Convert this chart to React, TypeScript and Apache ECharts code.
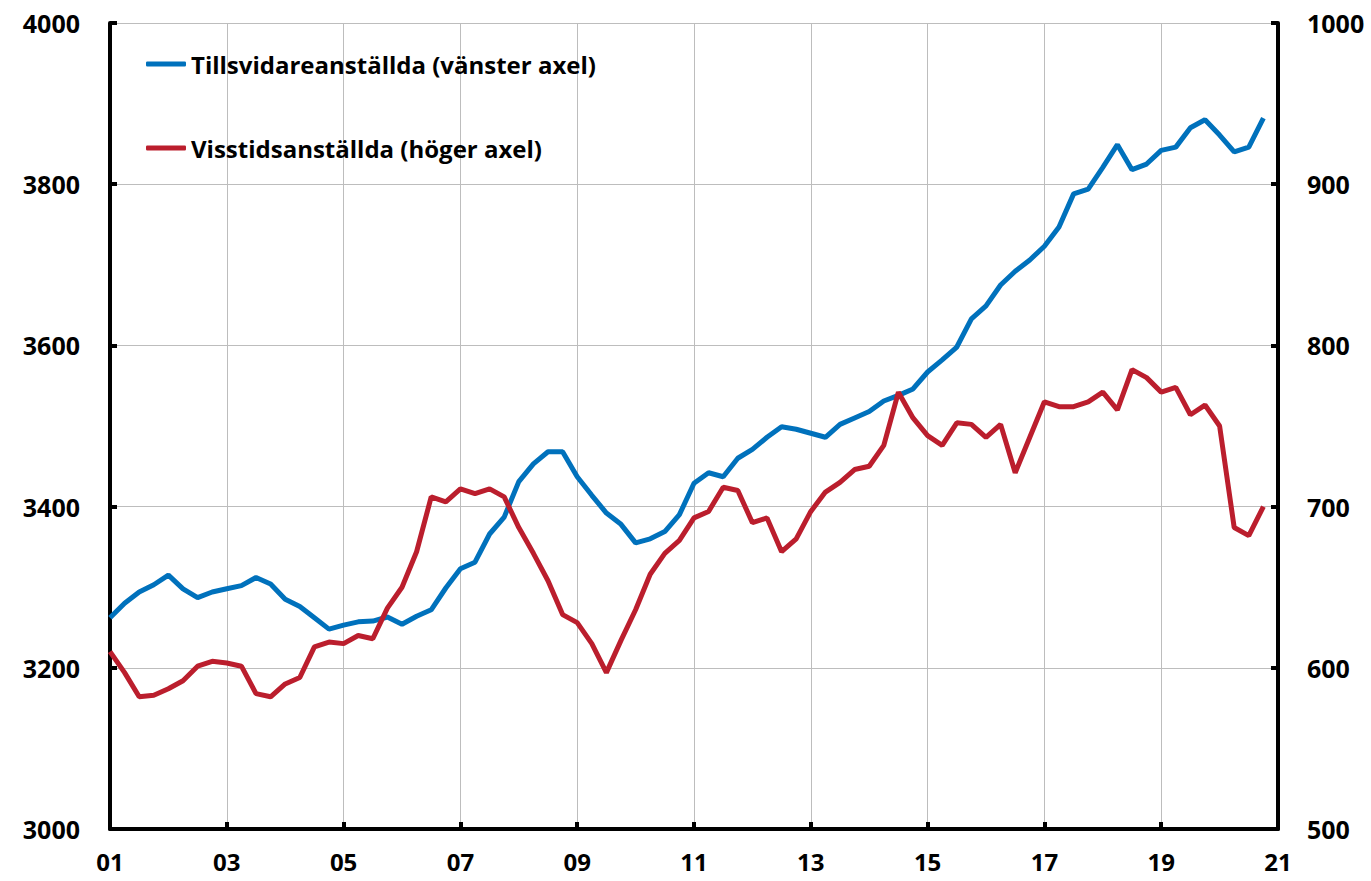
import React, { useEffect, useRef } from "react";
import * as echarts from "echarts";

const quartersPerYear = 4;
const xTickYears = ["01", "03", "05", "07", "09", "11", "13", "15", "17", "19", "21"];

const seriesNames = ["Tillsvidareanställda (vänster axel)", "Visstidsanställda (höger axel)"];

const tillsvidare = [
  3262, 3280, 3294, 3303, 3315, 3298, 3287, 3294, 3298, 3302,
  3312, 3304, 3285, 3276, 3262, 3248, 3253, 3257, 3258, 3263,
  3254, 3264, 3272, 3299, 3323, 3331, 3366, 3387, 3431, 3453,
  3468, 3468, 3437, 3414, 3392, 3378, 3355, 3360, 3369, 3390,
  3429, 3442, 3437, 3460, 3471, 3486, 3499, 3496, 3491, 3486,
  3502, 3510, 3518, 3531, 3538, 3546, 3567, 3582, 3598, 3633,
  3649, 3675, 3692, 3706, 3723, 3747, 3788, 3794, 3821, 3849,
  3818, 3825, 3842, 3846, 3870, 3880, 3861, 3840, 3846, 3882,
];

const visstid = [
  610, 597, 582, 583, 587, 592, 601, 604, 603, 601,
  584, 582, 590, 594, 613, 616, 615, 620, 618, 637,
  650, 672, 706, 703, 711, 708, 711, 706, 687, 671,
  654, 633, 628, 615, 597, 617, 636, 658, 671, 679,
  693, 697, 712, 710, 690, 693, 672, 680, 697, 709,
  715, 723, 725, 738, 771, 755, 744, 738, 752, 751,
  743, 751, 721, 743, 765, 762, 762, 765, 771, 760,
  785, 780, 771, 774, 757, 763, 750, 687, 682, 700,
];

const leftAxis = { min: 3000, max: 4000, interval: 200 };
const rightAxis = { min: 500, max: 1000, interval: 100 };

const toPairs = (vals: number[]) => vals.map((v, i) => [i / quartersPerYear, v]);

export default function App() {
  const ref = useRef<HTMLDivElement>(null);
  useEffect(() => {
    if (!ref.current) return;
    const chart = echarts.init(ref.current, null, { renderer: "svg" });
    const font = "Open Sans";
    const labelStyle = { color: "#000", fontFamily: font, fontWeight: "bold" as const, fontSize: 25 };
    const axisLine = { show: true, lineStyle: { color: "#000", width: 4 } };
    const axisTick = { show: true, inside: true, length: 7, lineStyle: { color: "#000", width: 4 } };
    const splitLine = { show: true, lineStyle: { color: "#bdbdbd", width: 1 } };
    const plain = (v: number) => String(v);
    chart.setOption({
      animation: false,
      backgroundColor: "#fff",
      grid: { left: 110, right: 93, top: 23, bottom: 52, containLabel: false },
      legend: {
        orient: "vertical",
        left: 141,
        top: 47,
        itemGap: 60,
        icon: "roundRect",
        itemWidth: 40,
        itemHeight: 5,
        textStyle: { ...labelStyle, fontSize: 24 },
        data: seriesNames,
      },
      xAxis: {
        type: "value",
        min: 0,
        max: (xTickYears.length - 1) * 2,
        interval: 2,
        axisLine,
        axisTick,
        splitLine,
        axisLabel: {
          ...labelStyle,
          fontSize: 24,
          lineHeight: 24,
          margin: 20,
          formatter: (v: number) => xTickYears[Math.round(v / 2)] ?? "",
        },
      },
      yAxis: [
        {
          type: "value",
          position: "left",
          ...leftAxis,
          axisLine,
          axisTick,
          splitLine,
          axisLabel: { ...labelStyle, margin: 30, formatter: plain },
        },
        {
          type: "value",
          position: "right",
          ...rightAxis,
          axisLine,
          axisTick,
          splitLine: { show: false },
          axisLabel: { ...labelStyle, margin: 29, formatter: plain },
        },
      ],
      series: [
        {
          name: seriesNames[0],
          type: "line",
          yAxisIndex: 0,
          data: toPairs(tillsvidare),
          showSymbol: false,
          symbol: "none",
          color: "#0071bc",
          lineStyle: { width: 5, color: "#0071bc" },
        },
        {
          name: seriesNames[1],
          type: "line",
          yAxisIndex: 1,
          data: toPairs(visstid),
          showSymbol: false,
          symbol: "none",
          color: "#bb1e2d",
          lineStyle: { width: 5, color: "#bb1e2d" },
        },
      ],
    });
    return () => chart.dispose();
  }, []);
  return (
    <div
      ref={ref}
      style={{ position: "fixed", left: 0, top: 0, width: 1371, height: 881 }}
    />
  );
}
